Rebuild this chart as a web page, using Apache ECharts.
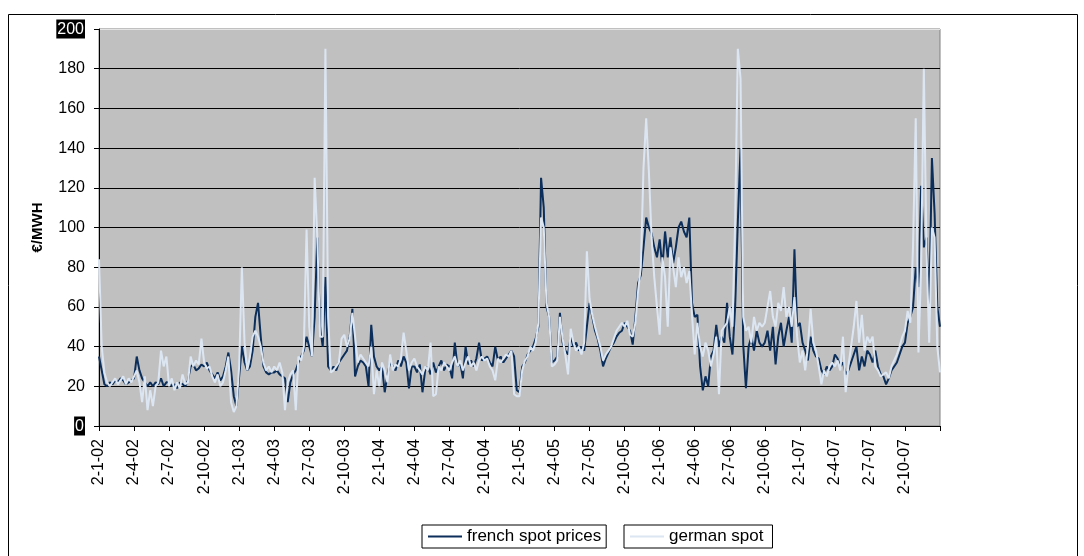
<!DOCTYPE html>
<html><head><meta charset="utf-8">
<script src="https://cdn.jsdelivr.net/npm/echarts@6/dist/echarts.min.js"></script>
<style>html,body{margin:0;padding:0;background:#fff}#c{width:1084px;height:556px}</style>
</head><body><div id="c"></div>
<script>
const tickLabels = ['2-1-02','2-4-02','2-7-02','2-10-02','2-1-03','2-4-03','2-7-03','2-10-03',
  '2-1-04','2-4-04','2-7-04','2-10-04','2-1-05','2-4-05','2-7-05','2-10-05',
  '2-1-06','2-4-06','2-7-06','2-10-06','2-1-07','2-4-07','2-7-07','2-10-07'];

// weekly readings, 13 per quarter
const french2002 = [35,28,21,20,22,21,23,22,24,23,21,22,23,
  24,35,28,24,22,20,22,20,22,21,24,20,22,
  22,20,21,19,22,21,20,23,30,31,28,29,31,
  30,32,28,26,24,27,23,25,30,37,28,15,10];
const german2002 = [84,40,27,22,20,22,24,21,23,25,21,24,22,
  25,28,22,12,25,8,18,10,20,22,38,30,35,
  20,24,18,22,19,26,21,22,35,30,33,31,44,
  32,29,30,25,22,26,20,22,28,35,12,7,10];
const french2003 = [25,40,32,28,30,38,55,62,45,30,27,26,27,
  27,28,26,25,24,12,22,26,28,32,35,38,45,
  40,35,55,95,50,40,75,30,28,30,28,32,34,
  36,38,45,59,25,30,33,32,30,20,51,35,30];
const german2003 = [30,80,42,28,35,45,48,45,40,32,28,30,27,
  30,28,32,27,8,22,26,28,8,35,33,40,99,
  50,35,125,95,45,45,190,55,27,28,30,32,44,
  46,40,44,57,45,32,36,34,32,30,40,16,28];
const french2004 = [28,30,17,26,32,30,28,33,30,35,32,19,30,
  30,27,31,17,28,30,26,32,27,30,33,28,31,
  30,24,42,30,32,24,40,31,33,30,34,42,33,
  34,35,32,30,40,33,35,32,34,36,38,35,18];
const german2004 = [20,32,28,22,36,28,31,30,34,47,38,28,32,
  34,30,28,26,30,28,42,15,16,30,28,32,30,
  28,32,35,30,33,28,32,35,30,32,28,33,35,
  33,34,30,28,23,34,32,34,36,35,38,16,15];
const french2005 = [17,30,32,36,38,40,44,50,125,110,60,55,32,
  33,35,57,42,38,36,45,40,42,38,40,38,50,
  62,55,48,44,38,30,34,37,40,42,45,47,48,
  52,50,48,41,55,72,76,90,105,100,97,90,85];
const german2005 = [15,28,33,35,40,38,42,52,105,100,62,55,30,
  31,33,55,44,36,26,49,42,38,40,36,42,88,
  64,56,50,45,40,33,36,38,40,44,48,50,52,
  50,53,46,45,52,68,80,130,155,128,95,75,60];
const french2006 = [94,80,98,85,95,82,90,100,103,98,95,105,62,
  55,56,30,18,25,20,35,38,51,40,45,42,62,
  45,36,60,103,140,41,19,40,45,38,48,42,40,
  42,48,38,50,31,45,52,40,48,55,42,89,50];
const german2006 = [46,85,75,50,90,80,70,85,75,80,72,78,56,
  36,52,40,35,42,38,30,36,45,16,48,50,52,
  60,50,103,190,175,55,48,50,42,55,48,52,50,
  52,60,68,55,50,62,58,70,55,60,50,65,45];
const french2007 = [52,42,38,33,45,38,35,34,28,26,30,28,30,
  36,34,30,32,26,28,32,36,40,28,35,30,38,
  36,32,38,30,26,25,21,24,28,30,32,36,40,
  42,52,55,60,80,70,121,90,95,58,135,107,60,50];
const german2007 = [32,38,28,40,59,42,38,30,21,28,25,30,32,
  30,33,28,45,17,30,40,50,63,42,56,38,45,
  42,45,30,28,25,26,27,24,30,33,36,40,45,
  48,58,52,91,155,37,80,180,88,42,100,95,40,27];

const french = [].concat(french2002, french2003, french2004, french2005, french2006, french2007);
const german = [].concat(german2002, german2003, german2004, german2005, german2006, german2007);
const weeks = french.map((_, i) => 'w' + i);
const STEP = 13;

const chart = echarts.init(document.getElementById('c'));
const splitColors = ['#000','#000','#000','#000','#000','#000','#000','#000','#000','#000','#e4e4e4'];
chart.setOption({
  animation: false,
  textStyle: { fontFamily: '"Liberation Sans", Arial, sans-serif' },
  grid: { left: 99, top: 29, right: 144, bottom: 130, show: true, backgroundColor: '#C0C0C0', borderColor: '#808080', borderWidth: 1 },
  xAxis: {
    type: 'category', data: weeks, boundaryGap: false,
    axisLine: { lineStyle: { color: '#000', width: 1 } },
    axisTick: { interval: (i) => i % STEP === 0, length: 5, lineStyle: { color: '#000' } },
    axisLabel: { interval: (i) => i % STEP === 0, rotate: 90, margin: 13, fontSize: 16, color: '#000',
      formatter: (v, i) => tickLabels[i / STEP] || '' },
    splitLine: { show: false }
  },
  yAxis: {
    type: 'value', min: 0, max: 200, interval: 20,
    name: '€/MWH', nameLocation: 'middle', nameGap: 52,
    nameTextStyle: { fontWeight: 'bold', fontSize: 15, color: '#000' },
    axisLine: { show: true, lineStyle: { color: '#000' } },
    axisTick: { show: true, length: 5, lineStyle: { color: '#000' } },
    axisLabel: { fontSize: 16, color: '#000', margin: 14,
      formatter: (v) => (v === 0 || v === 200) ? '{hl|' + v + '}' : String(v),
      rich: { hl: { backgroundColor: '#000', color: '#fff', fontSize: 16, padding: [2, 1, 1, 1] } } },
    splitLine: { lineStyle: { color: splitColors, width: 1 } }
  },
  legend: [
    { data: ['french spot prices'], left: 422, top: 525, orient: 'horizontal', icon: 'rect',
      borderColor: '#000', borderWidth: 1, padding: [3, 5, 3, 6], itemWidth: 34, itemHeight: 2, itemGap: 4,
      textStyle: { fontSize: 17, color: '#000' } },
    { data: ['german spot'], left: 624, top: 525, orient: 'horizontal', icon: 'rect',
      borderColor: '#000', borderWidth: 1, padding: [3, 9, 3, 6], itemWidth: 34, itemHeight: 2, itemGap: 4,
      textStyle: { fontSize: 17, color: '#000' } }
  ],
  series: [
    { name: 'french spot prices', type: 'line', data: french, symbol: 'none',
      lineStyle: { color: '#0C2E5A', width: 2 }, itemStyle: { color: '#0C2E5A' } },
    { name: 'german spot', type: 'line', data: german, symbol: 'none',
      lineStyle: { color: '#DCE6F3', width: 2 }, itemStyle: { color: '#DCE6F3' } }
  ],
  graphic: [
    { type: 'rect', silent: true, z: -10, shape: { x: 8.5, y: 14.5, width: 1069, height: 560 },
      style: { fill: 'none', stroke: '#000', lineWidth: 1 } }
  ]
});
</script></body></html>
